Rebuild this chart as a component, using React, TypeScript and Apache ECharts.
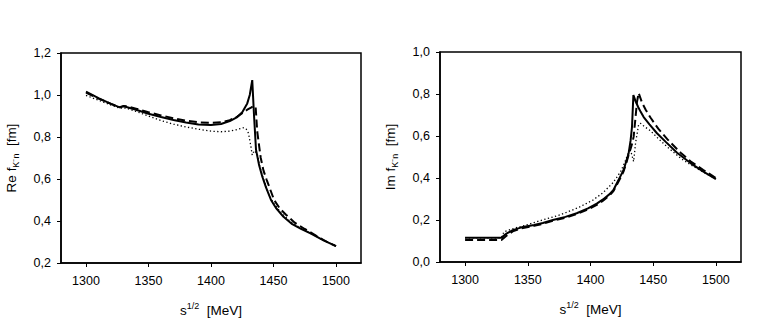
import React, { useEffect, useRef } from "react";
import * as echarts from "echarts";

// ---- data (energy in MeV, amplitude in fm) ----
const xTicks = [1300, 1350, 1400, 1450, 1500];

const reSolid: number[][] = [
  [1300, 1.016], [1310, 0.985], [1320, 0.958], [1327, 0.941], [1330, 0.946], [1333, 0.942],
  [1340, 0.93], [1350, 0.911], [1360, 0.895], [1370, 0.881], [1380, 0.869], [1390, 0.86],
  [1400, 0.857], [1408, 0.862], [1415, 0.876], [1421, 0.895], [1425, 0.918], [1429, 0.96],
  [1431, 1.0], [1433, 1.071], [1434.4, 0.905], [1436, 0.74], [1438.5, 0.665], [1441, 0.612],
  [1444, 0.56], [1448, 0.5], [1452, 0.462], [1458, 0.42], [1465, 0.385], [1472, 0.363],
  [1480, 0.34], [1490, 0.308], [1500, 0.28],
];
const reDashed: number[][] = [
  [1300, 1.012], [1310, 0.983], [1320, 0.958], [1327, 0.942], [1330, 0.948], [1333, 0.946],
  [1340, 0.935], [1350, 0.918], [1360, 0.903], [1370, 0.889], [1380, 0.878], [1390, 0.87],
  [1400, 0.867], [1408, 0.87], [1415, 0.88], [1421, 0.897], [1425, 0.913], [1429, 0.93],
  [1432, 0.94], [1434, 0.948], [1435.7, 0.944], [1437, 0.825], [1439.8, 0.7], [1442, 0.64],
  [1444.6, 0.595], [1450.5, 0.5], [1455, 0.46], [1460, 0.43], [1467, 0.392], [1475, 0.362],
  [1485, 0.327], [1493, 0.3], [1500, 0.28],
];
const reDotted: number[][] = [
  [1300, 0.998], [1310, 0.975], [1320, 0.952], [1327, 0.937], [1332, 0.938], [1340, 0.922],
  [1350, 0.9], [1360, 0.878], [1370, 0.861], [1380, 0.848], [1390, 0.837], [1400, 0.828],
  [1408, 0.825], [1415, 0.828], [1420, 0.834], [1426, 0.844], [1428, 0.84], [1430, 0.818],
  [1431.7, 0.762], [1433, 0.714], [1434.5, 0.735], [1437, 0.72], [1439, 0.66], [1442, 0.6],
  [1446, 0.53], [1450, 0.485], [1456, 0.44], [1463, 0.4], [1470, 0.372], [1480, 0.34],
  [1490, 0.308], [1500, 0.282],
];

const imSolid: number[][] = [
  [1300, 0.116], [1310, 0.116], [1320, 0.116], [1329, 0.116], [1333, 0.135], [1338, 0.152],
  [1345, 0.165], [1355, 0.176], [1362, 0.186], [1370, 0.2], [1380, 0.215], [1389, 0.232],
  [1398, 0.255], [1405, 0.278], [1410, 0.298], [1415, 0.322], [1418.3, 0.343], [1421, 0.375],
  [1424, 0.41], [1426.4, 0.438], [1428.5, 0.48], [1430.4, 0.517], [1432, 0.58], [1433.1, 0.644],
  [1434.2, 0.795], [1436, 0.765], [1438, 0.738], [1440, 0.715], [1442.4, 0.69], [1447, 0.655],
  [1453, 0.613], [1460, 0.572], [1469, 0.52], [1480, 0.47], [1490, 0.43], [1500, 0.395],
];
const imDashed: number[][] = [
  [1300, 0.105], [1329, 0.105], [1333, 0.125], [1338, 0.146], [1345, 0.16], [1355, 0.172],
  [1362, 0.182], [1370, 0.196], [1380, 0.211], [1389, 0.228], [1398, 0.25], [1405, 0.272],
  [1410, 0.292], [1415, 0.316], [1418.3, 0.338], [1421, 0.368], [1424, 0.402], [1426.4, 0.432],
  [1428.5, 0.47], [1430.4, 0.51], [1432, 0.54], [1433.5, 0.57], [1434.4, 0.597], [1435.7, 0.676],
  [1437, 0.76], [1438.4, 0.805], [1441, 0.76], [1444, 0.725], [1447.8, 0.688], [1454, 0.635],
  [1461.2, 0.585], [1471.9, 0.52], [1480, 0.478], [1490, 0.438], [1500, 0.4],
];
const imDotted: number[][] = [
  [1300, 0.115], [1329, 0.115], [1331, 0.144], [1340, 0.162], [1348.7, 0.176], [1360, 0.197],
  [1375.5, 0.224], [1390, 0.258], [1402, 0.295], [1410, 0.33], [1418, 0.378], [1424, 0.43],
  [1427, 0.47], [1429, 0.501], [1431, 0.54], [1432.5, 0.52], [1434.4, 0.478], [1436, 0.57],
  [1438.4, 0.655], [1440, 0.66], [1443, 0.645], [1447.8, 0.625], [1454, 0.588], [1461, 0.549],
  [1471.9, 0.494], [1480, 0.462], [1490, 0.428], [1500, 0.395],
];

const FONT = "Liberation Sans";

const nameRich = {
  a: { fontFamily: FONT, fontSize: 13.5, lineHeight: 18, color: "#000" },
  s: { fontFamily: FONT, fontSize: 9, lineHeight: 10, verticalAlign: "bottom", color: "#000" },
  p: { fontFamily: FONT, fontSize: 9, lineHeight: 10, verticalAlign: "top", color: "#000" },
};

function xAxis(gridIndex: number) {
  return {
    type: "value",
    gridIndex,
    min: 1280,
    max: 1520,
    name: "{a|s}{p|1/2}{a|  [MeV]}",
    nameLocation: "middle",
    nameGap: 38,
    nameTextStyle: { rich: nameRich },
    axisLine: { show: true, onZero: false, lineStyle: { color: "#000", width: 1.5 } },
    axisTick: { show: true, inside: false, length: 4, customValues: xTicks, lineStyle: { color: "#000" } },
    axisLabel: {
      customValues: xTicks,
      margin: 11,
      fontFamily: FONT,
      fontSize: 12.5,
      color: "#000",
      formatter: (v: number) => String(v),
    },
    splitLine: { show: false },
  };
}

function yAxis(gridIndex: number, min: number, max: number, label: string) {
  return {
    type: "value",
    gridIndex,
    min,
    max,
    interval: 0.2,
    name: label,
    nameLocation: "middle",
    nameGap: 41,
    nameTextStyle: { rich: nameRich },
    axisLine: { show: true, onZero: false, lineStyle: { color: "#000", width: 1.5 } },
    axisTick: { show: true, inside: false, length: 4, lineStyle: { color: "#000" } },
    axisLabel: {
      margin: 10,
      fontFamily: FONT,
      fontSize: 12.5,
      color: "#000",
      formatter: (v: number) => v.toFixed(1).replace(".", ","),
    },
    splitLine: { show: false },
  };
}

function line(data: number[][], idx: number, kind: "solid" | "dashed" | "dotted") {
  const style =
    kind === "solid"
      ? { color: "#000", width: 2 }
      : kind === "dashed"
      ? { color: "#000", width: 2, type: [8, 4] }
      : { color: "#000", width: 1.3, type: [1.3, 2.4] };
  return {
    type: "line",
    xAxisIndex: idx,
    yAxisIndex: idx,
    data,
    showSymbol: false,
    symbol: "none",
    smooth: false,
    lineStyle: style,
    z: kind === "solid" ? 3 : 2,
  };
}

export default function App() {
  const ref = useRef<HTMLDivElement>(null);
  useEffect(() => {
    if (!ref.current) return;
    const chart = echarts.init(ref.current, null, { renderer: "svg" });
    chart.setOption({
      animation: false,
      backgroundColor: "#fff",
      grid: [
        { left: 61, top: 53, width: 300, height: 210, show: true, borderColor: "#000", borderWidth: 1.5, backgroundColor: "transparent" },
        { left: 440, top: 52, width: 301, height: 210, show: true, borderColor: "#000", borderWidth: 1.5, backgroundColor: "transparent" },
      ],
      xAxis: [xAxis(0), xAxis(1)],
      yAxis: [
        yAxis(0, 0.2, 1.2, "{a|Re f}{s|K⁻n}{a|  [fm]}"),
        yAxis(1, 0, 1.0, "{a|Im f}{s|K⁻n}{a|  [fm]}"),
      ],
      series: [
        line(reDotted, 0, "dotted"),
        line(reDashed, 0, "dashed"),
        line(reSolid, 0, "solid"),
        line(imDotted, 1, "dotted"),
        line(imDashed, 1, "dashed"),
        line(imSolid, 1, "solid"),
      ],
    });
    return () => chart.dispose();
  }, []);
  return (
    <div
      ref={ref}
      style={{ position: "fixed", left: 0, top: 0, width: 767, height: 322, background: "#fff" }}
    />
  );
}
